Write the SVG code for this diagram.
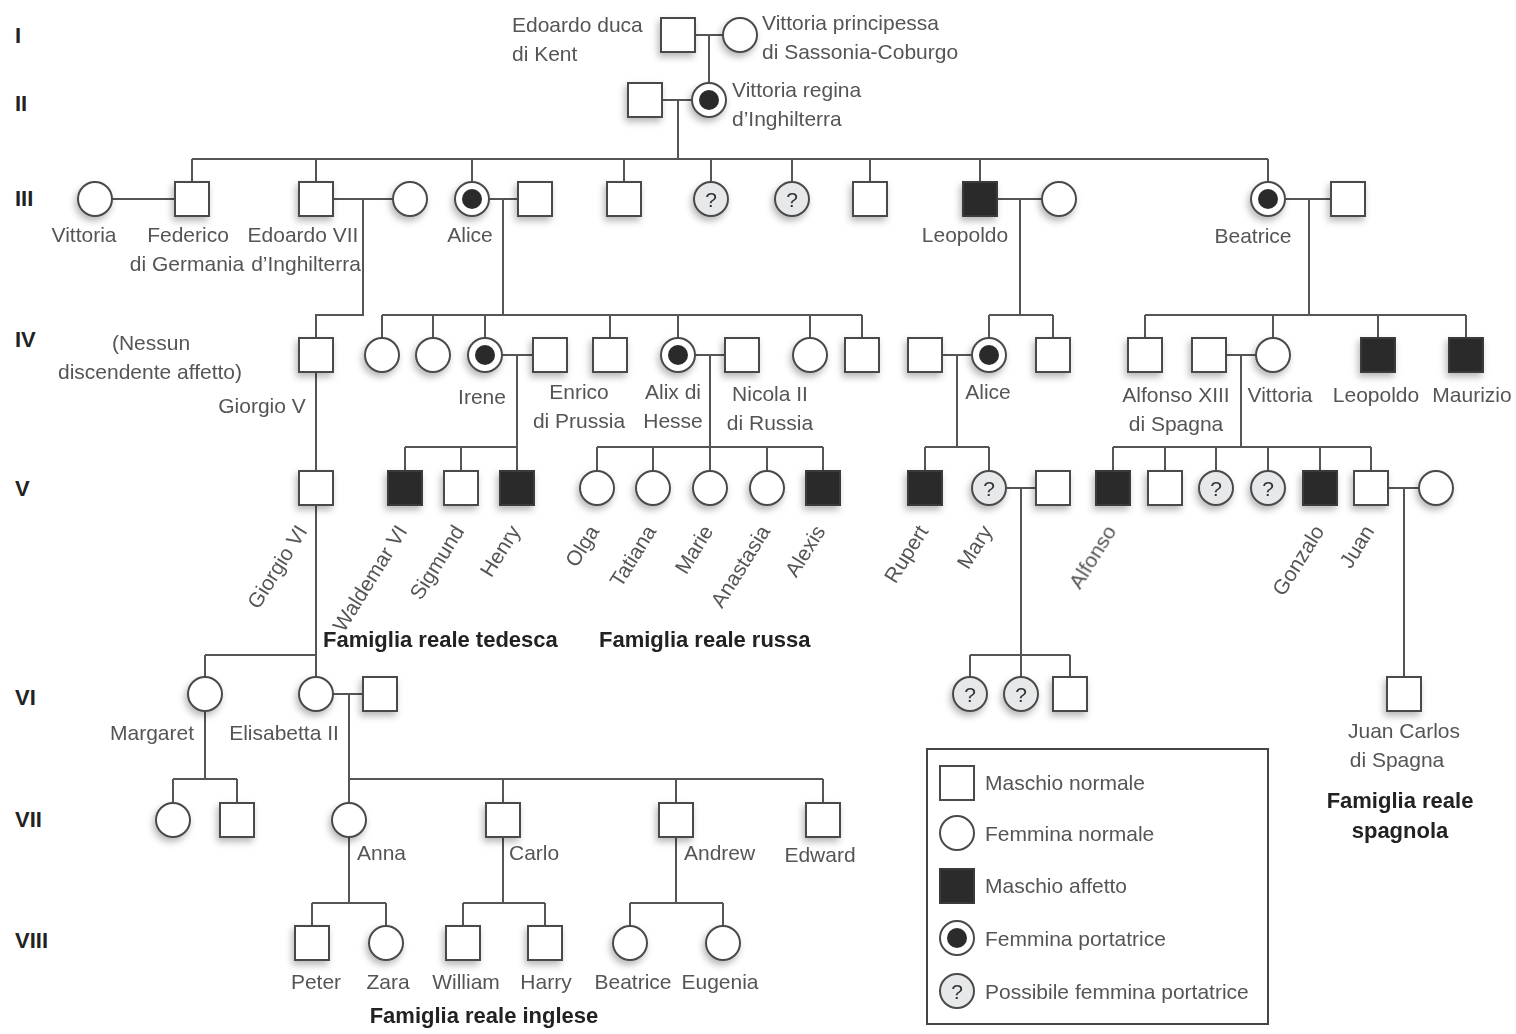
<svg xmlns="http://www.w3.org/2000/svg" xmlns:xlink="http://www.w3.org/1999/xlink" width="1516" height="1034" viewBox="0 0 1516 1034">
<style>
  .ln { fill: none; stroke: #555; stroke-width: 2; }
  .sym { fill: #fff; stroke: #4a4a4a; stroke-width: 2; }
  .aff { fill: #2b2b2b; stroke: #3a3a3a; stroke-width: 2; }
  .dot { fill: #2b2b2b; }
  .qfill { fill: #e6e8ea; stroke: #4a4a4a; stroke-width: 2; }
  .q { font-family: "Liberation Sans", Arial, sans-serif; font-size: 21px; fill: #333; text-anchor: middle; }
  .lbl { font-family: "Liberation Sans", Arial, sans-serif; font-size: 21px; fill: #555; }
  .c { text-anchor: middle; }
  .rot { text-anchor: end; }
  .gen { font-family: "Liberation Sans", Arial, sans-serif; font-size: 22px; font-weight: bold; fill: #222; }
  .fam { font-family: "Liberation Sans", Arial, sans-serif; font-size: 22px; font-weight: bold; fill: #222; }
</style>
<defs>
  <filter id="shadow" x="-50%" y="-50%" width="200%" height="200%">
    <feDropShadow dx="-2" dy="4" stdDeviation="3.5" flood-color="#000" flood-opacity="0.28"/>
  </filter>
  <!-- pedigree symbols, centred on 0,0 -->
  <rect id="sq" class="sym" x="-17" y="-17" width="34" height="34"/>
  <rect id="sqA" class="aff" x="-17" y="-17" width="34" height="34"/>
  <circle id="ci" class="sym" r="17"/>
  <g id="ciC"><circle class="sym" r="17"/><circle class="dot" r="10"/></g>
  <g id="ciQ"><circle class="qfill" r="17"/><text class="q" y="8">?</text></g>
</defs>

<rect width="1516" height="1034" fill="#fff"/>

<!-- generation numerals -->
<g id="generations">
  <text class="gen" x="15" y="43">I</text>
  <text class="gen" x="15" y="111">II</text>
  <text class="gen" x="15" y="206">III</text>
  <text class="gen" x="15" y="347">IV</text>
  <text class="gen" x="15" y="496">V</text>
  <text class="gen" x="15" y="705">VI</text>
  <text class="gen" x="15" y="827">VII</text>
  <text class="gen" x="15" y="948">VIII</text>
</g>

<!-- connectors -->
<g id="connectors" class="ln">
  <!-- I -->
  <path d="M695,35 H723 M709,35 V83"/>
  <!-- II -->
  <path d="M663,100 H692 M678,100 V159"/>
  <!-- III sibship -->
  <path d="M192,159 H1268 M192,159 V182 M316,159 V182 M472,159 V182 M624,159 V182 M711,159 V182 M792,159 V182 M870,159 V182 M980,159 V182 M1268,159 V182"/>
  <!-- III marriages and descents -->
  <path d="M112,199 H175 M333,199 H393 M489,199 H518 M997,199 H1042 M1285,199 H1331"/>
  <path d="M363,199 V315 H316 V338 M503,199 V315 M1020,199 V315 M1309,199 V315"/>
  <!-- IV sibships -->
  <path d="M382,315 H862 M382,315 V338 M433,315 V338 M485,315 V338 M610,315 V338 M678,315 V338 M810,315 V338 M862,315 V338"/>
  <path d="M989,315 H1053 M989,315 V338 M1053,315 V338"/>
  <path d="M1145,315 H1466 M1145,315 V338 M1273,315 V338 M1378,315 V338 M1466,315 V338"/>
  <!-- IV marriages and descents -->
  <path d="M502,355 H533 M517,355 V447 M695,355 H725 M710,355 V447 M942,355 H972 M957,355 V447 M1226,355 H1256 M1241,355 V447"/>
  <path d="M316,372 V471"/>
  <!-- V sibships -->
  <path d="M405,447 H517 M405,447 V471 M461,447 V471 M517,447 V471"/>
  <path d="M597,447 H823 M597,447 V471 M653,447 V471 M710,447 V471 M767,447 V471 M823,447 V471"/>
  <path d="M925,447 H989 M925,447 V471 M989,447 V471"/>
  <path d="M1113,447 H1371 M1113,447 V471 M1165,447 V471 M1216,447 V471 M1268,447 V471 M1320,447 V471 M1371,447 V471"/>
  <!-- V marriages and descents -->
  <path d="M1006,488 H1036 M1021,488 V677 M970,655 H1070 M970,655 V677 M1070,655 V677"/>
  <path d="M1388,488 H1419 M1404,488 V677"/>
  <path d="M316,505 V677 M205,655 H316 M205,655 V677"/>
  <!-- VI -->
  <path d="M333,694 H363 M349,694 V803 M349,779 H823 M503,779 V803 M676,779 V803 M823,779 V803"/>
  <path d="M205,711 V779 M173,779 H237 M173,779 V803 M237,779 V803"/>
  <!-- VII -->
  <path d="M349,837 V903 M312,903 H386 M312,903 V926 M386,903 V926"/>
  <path d="M503,837 V903 M463,903 H545 M463,903 V926 M545,903 V926"/>
  <path d="M676,837 V903 M630,903 H723 M630,903 V926 M723,903 V926"/>
</g>

<!-- nodes -->
<g id="nodes" filter="url(#shadow)">
  <!-- I -->
  <g id="n-edoardo-kent"><use href="#sq" x="678" y="35"/></g>
  <g id="n-vittoria-sassonia"><use href="#ci" x="740" y="35"/></g>
  <!-- II -->
  <g id="n-alberto"><use href="#sq" x="645" y="100"/></g>
  <g id="n-vittoria-regina"><use href="#ciC" x="709" y="100"/></g>
  <!-- III -->
  <g id="n-vittoria-iii"><use href="#ci" x="95" y="199"/></g>
  <g id="n-federico"><use href="#sq" x="192" y="199"/></g>
  <g id="n-edoardo-vii"><use href="#sq" x="316" y="199"/></g>
  <g id="n-alessandra"><use href="#ci" x="410" y="199"/></g>
  <g id="n-alice-iii"><use href="#ciC" x="472" y="199"/></g>
  <g id="n-alice-husband"><use href="#sq" x="535" y="199"/></g>
  <g id="n-iii-5"><use href="#sq" x="624" y="199"/></g>
  <g id="n-iii-6"><use href="#ciQ" x="711" y="199"/></g>
  <g id="n-iii-7"><use href="#ciQ" x="792" y="199"/></g>
  <g id="n-iii-8"><use href="#sq" x="870" y="199"/></g>
  <g id="n-leopoldo-iii"><use href="#sqA" x="980" y="199"/></g>
  <g id="n-leopoldo-wife"><use href="#ci" x="1059" y="199"/></g>
  <g id="n-beatrice-iii"><use href="#ciC" x="1268" y="199"/></g>
  <g id="n-beatrice-husband"><use href="#sq" x="1348" y="199"/></g>
  <!-- IV -->
  <g id="n-giorgio-v"><use href="#sq" x="316" y="355"/></g>
  <g id="n-iv-2"><use href="#ci" x="382" y="355"/></g>
  <g id="n-iv-3"><use href="#ci" x="433" y="355"/></g>
  <g id="n-irene"><use href="#ciC" x="485" y="355"/></g>
  <g id="n-enrico"><use href="#sq" x="550" y="355"/></g>
  <g id="n-iv-6"><use href="#sq" x="610" y="355"/></g>
  <g id="n-alix"><use href="#ciC" x="678" y="355"/></g>
  <g id="n-nicola"><use href="#sq" x="742" y="355"/></g>
  <g id="n-iv-9"><use href="#ci" x="810" y="355"/></g>
  <g id="n-iv-10"><use href="#sq" x="862" y="355"/></g>
  <g id="n-alice-husband-iv"><use href="#sq" x="925" y="355"/></g>
  <g id="n-alice-iv"><use href="#ciC" x="989" y="355"/></g>
  <g id="n-iv-13"><use href="#sq" x="1053" y="355"/></g>
  <g id="n-iv-14"><use href="#sq" x="1145" y="355"/></g>
  <g id="n-alfonso-xiii"><use href="#sq" x="1209" y="355"/></g>
  <g id="n-vittoria-iv"><use href="#ci" x="1273" y="355"/></g>
  <g id="n-leopoldo-iv"><use href="#sqA" x="1378" y="355"/></g>
  <g id="n-maurizio"><use href="#sqA" x="1466" y="355"/></g>
  <!-- V -->
  <g id="n-giorgio-vi"><use href="#sq" x="316" y="488"/></g>
  <g id="n-waldemar"><use href="#sqA" x="405" y="488"/></g>
  <g id="n-sigmund"><use href="#sq" x="461" y="488"/></g>
  <g id="n-henry"><use href="#sqA" x="517" y="488"/></g>
  <g id="n-olga"><use href="#ci" x="597" y="488"/></g>
  <g id="n-tatiana"><use href="#ci" x="653" y="488"/></g>
  <g id="n-marie"><use href="#ci" x="710" y="488"/></g>
  <g id="n-anastasia"><use href="#ci" x="767" y="488"/></g>
  <g id="n-alexis"><use href="#sqA" x="823" y="488"/></g>
  <g id="n-rupert"><use href="#sqA" x="925" y="488"/></g>
  <g id="n-mary"><use href="#ciQ" x="989" y="488"/></g>
  <g id="n-mary-husband"><use href="#sq" x="1053" y="488"/></g>
  <g id="n-alfonso"><use href="#sqA" x="1113" y="488"/></g>
  <g id="n-v-sp2"><use href="#sq" x="1165" y="488"/></g>
  <g id="n-v-sp3"><use href="#ciQ" x="1216" y="488"/></g>
  <g id="n-v-sp4"><use href="#ciQ" x="1268" y="488"/></g>
  <g id="n-gonzalo"><use href="#sqA" x="1320" y="488"/></g>
  <g id="n-juan"><use href="#sq" x="1371" y="488"/></g>
  <g id="n-juan-wife"><use href="#ci" x="1436" y="488"/></g>
  <!-- VI -->
  <g id="n-margaret"><use href="#ci" x="205" y="694"/></g>
  <g id="n-elisabetta"><use href="#ci" x="316" y="694"/></g>
  <g id="n-filippo"><use href="#sq" x="380" y="694"/></g>
  <g id="n-vi-4"><use href="#ciQ" x="970" y="694"/></g>
  <g id="n-vi-5"><use href="#ciQ" x="1021" y="694"/></g>
  <g id="n-vi-6"><use href="#sq" x="1070" y="694"/></g>
  <g id="n-juan-carlos"><use href="#sq" x="1404" y="694"/></g>
  <!-- VII -->
  <g id="n-vii-1"><use href="#ci" x="173" y="820"/></g>
  <g id="n-vii-2"><use href="#sq" x="237" y="820"/></g>
  <g id="n-anna"><use href="#ci" x="349" y="820"/></g>
  <g id="n-carlo"><use href="#sq" x="503" y="820"/></g>
  <g id="n-andrew"><use href="#sq" x="676" y="820"/></g>
  <g id="n-edward"><use href="#sq" x="823" y="820"/></g>
  <!-- VIII -->
  <g id="n-peter"><use href="#sq" x="312" y="943"/></g>
  <g id="n-zara"><use href="#ci" x="386" y="943"/></g>
  <g id="n-william"><use href="#sq" x="463" y="943"/></g>
  <g id="n-harry"><use href="#sq" x="545" y="943"/></g>
  <g id="n-beatrice-viii"><use href="#ci" x="630" y="943"/></g>
  <g id="n-eugenia"><use href="#ci" x="723" y="943"/></g>
</g>

<!-- name labels -->
<g id="labels" class="lbl">
  <text x="512" y="32">Edoardo duca</text>
  <text x="512" y="61">di Kent</text>
  <text x="762" y="30">Vittoria principessa</text>
  <text x="762" y="59">di Sassonia-Coburgo</text>
  <text x="732" y="97">Vittoria regina</text>
  <text x="732" y="126">d’Inghilterra</text>

  <text class="c" x="84" y="242">Vittoria</text>
  <text class="c" x="188" y="242">Federico</text>
  <text class="c" x="187" y="271">di Germania</text>
  <text class="c" x="303" y="242">Edoardo VII</text>
  <text class="c" x="306" y="271">d’Inghilterra</text>
  <text class="c" x="470" y="242">Alice</text>
  <text class="c" x="965" y="242">Leopoldo</text>
  <text class="c" x="1253" y="243">Beatrice</text>

  <text class="c" x="151" y="350">(Nessun</text>
  <text class="c" x="150" y="379">discendente affetto)</text>
  <text class="c" x="262" y="413">Giorgio V</text>
  <text class="c" x="482" y="404">Irene</text>
  <text class="c" x="579" y="399">Enrico</text>
  <text class="c" x="579" y="428">di Prussia</text>
  <text class="c" x="673" y="399">Alix di</text>
  <text class="c" x="673" y="428">Hesse</text>
  <text class="c" x="770" y="401">Nicola II</text>
  <text class="c" x="770" y="430">di Russia</text>
  <text class="c" x="988" y="399">Alice</text>
  <text class="c" x="1176" y="402">Alfonso XIII</text>
  <text class="c" x="1176" y="431">di Spagna</text>
  <text class="c" x="1280" y="402">Vittoria</text>
  <text class="c" x="1376" y="402">Leopoldo</text>
  <text class="c" x="1472" y="402">Maurizio</text>

  <!-- slanted names of generation V -->
  <text class="rot" transform="translate(308,531) rotate(-58)">Giorgio VI</text>
  <text class="rot" transform="translate(408,531) rotate(-58)">Waldemar VI</text>
  <text class="rot" transform="translate(465,531) rotate(-58)">Sigmund</text>
  <text class="rot" transform="translate(521,531) rotate(-58)">Henry</text>
  <text class="rot" transform="translate(600,531) rotate(-58)">Olga</text>
  <text class="rot" transform="translate(657,531) rotate(-58)">Tatiana</text>
  <text class="rot" transform="translate(714,531) rotate(-58)">Marie</text>
  <text class="rot" transform="translate(771,531) rotate(-58)">Anastasia</text>
  <text class="rot" transform="translate(826,531) rotate(-58)">Alexis</text>
  <text class="rot" transform="translate(929,531) rotate(-58)">Rupert</text>
  <text class="rot" transform="translate(993,531) rotate(-58)">Mary</text>
  <text class="rot" transform="translate(1117,531) rotate(-58)">Alfonso</text>
  <text class="rot" transform="translate(1325,531) rotate(-58)">Gonzalo</text>
  <text class="rot" transform="translate(1375,531) rotate(-58)">Juan</text>

  <text class="c" x="152" y="740">Margaret</text>
  <text class="c" x="284" y="740">Elisabetta II</text>
  <text class="c" x="1404" y="738">Juan Carlos</text>
  <text class="c" x="1397" y="767">di Spagna</text>

  <text x="357" y="860">Anna</text>
  <text x="509" y="860">Carlo</text>
  <text x="684" y="860">Andrew</text>
  <text class="c" x="820" y="862">Edward</text>

  <text class="c" x="316" y="989">Peter</text>
  <text class="c" x="388" y="989">Zara</text>
  <text class="c" x="466" y="989">William</text>
  <text class="c" x="546" y="989">Harry</text>
  <text class="c" x="633" y="989">Beatrice</text>
  <text class="c" x="720" y="989">Eugenia</text>
</g>

<!-- family captions -->
<g id="families" class="fam">
  <text x="323" y="647">Famiglia reale tedesca</text>
  <text x="599" y="647">Famiglia reale russa</text>
  <text x="484" y="1023" text-anchor="middle">Famiglia reale inglese</text>
  <text x="1400" y="808" text-anchor="middle">Famiglia reale</text>
  <text x="1400" y="838" text-anchor="middle">spagnola</text>
</g>

<!-- key -->
<g id="legend">
  <rect x="927" y="749" width="341" height="275" fill="#fff" stroke="#444" stroke-width="2"/>
  <use href="#sq" x="957" y="783"/>
  <use href="#ci" x="957" y="833"/>
  <use href="#sqA" x="957" y="886"/>
  <use href="#ciC" x="957" y="938"/>
  <use href="#ciQ" x="957" y="991"/>
  <g class="lbl">
    <text x="985" y="790">Maschio normale</text>
    <text x="985" y="841">Femmina normale</text>
    <text x="985" y="893">Maschio affetto</text>
    <text x="985" y="946">Femmina portatrice</text>
    <text x="985" y="999">Possibile femmina portatrice</text>
  </g>
</g>
</svg>
